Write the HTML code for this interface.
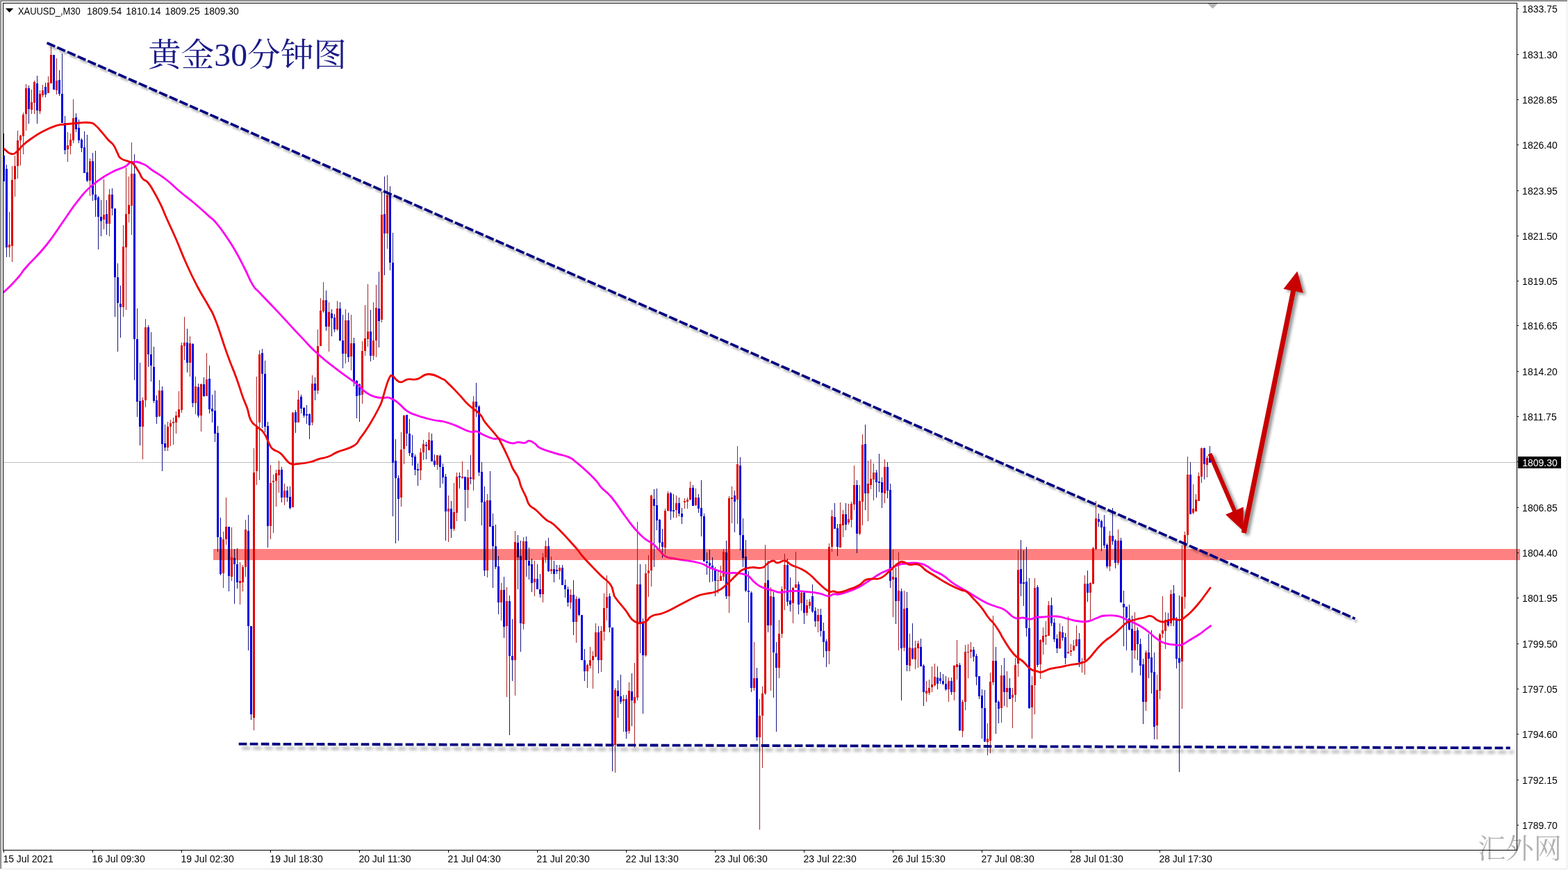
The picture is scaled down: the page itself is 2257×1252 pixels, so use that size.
<!DOCTYPE html>
<html><head><meta charset="utf-8"><title>XAUUSD M30</title>
<style>html,body{margin:0;padding:0;background:#fff;}body{width:2257px;height:1252px;overflow:hidden;position:relative;font-family:"Liberation Sans",sans-serif;}</style>
</head><body><svg width="2257" height="1252" viewBox="0 0 2257 1252" style="position:absolute;left:0;top:0">
<defs>
<filter id="sh" x="0" y="0" width="2257" height="1252" filterUnits="userSpaceOnUse"><feGaussianBlur in="SourceAlpha" stdDeviation="1.5"/><feOffset dx="3" dy="4.2" result="o"/><feComponentTransfer><feFuncA type="linear" slope="0.3"/></feComponentTransfer><feMerge><feMergeNode/><feMergeNode in="SourceGraphic"/></feMerge></filter>
<filter id="shh" x="300" y="1040" width="1957" height="80" filterUnits="userSpaceOnUse"><feGaussianBlur in="SourceAlpha" stdDeviation="2.1"/><feOffset dx="4.5" dy="6" result="o"/><feComponentTransfer><feFuncA type="linear" slope="0.33"/></feComponentTransfer><feMerge><feMergeNode/><feMergeNode in="SourceGraphic"/></feMerge></filter>
<filter id="sh2" x="1700" y="350" width="250" height="460" filterUnits="userSpaceOnUse"><feGaussianBlur in="SourceAlpha" stdDeviation="2.2"/><feOffset dx="4" dy="3" result="o"/><feComponentTransfer><feFuncA type="linear" slope="0.42"/></feComponentTransfer><feMerge><feMergeNode/><feMergeNode in="SourceGraphic"/></feMerge></filter>
</defs>
<rect width="2257" height="1252" fill="#fff"/>
<g shape-rendering="crispEdges">
<rect x="0" y="0" width="2256" height="1" fill="#aaa"/><rect x="0" y="1" width="2256" height="1" fill="#6e6e6e"/>
<rect x="0" y="0" width="1" height="1250" fill="#aaa"/><rect x="1" y="1" width="1" height="1249" fill="#6e6e6e"/>
<rect x="0" y="1250" width="2256" height="1" fill="#e3e3e3"/><rect x="2255" y="2" width="1" height="1249" fill="#e6e6e6"/>
<rect x="5" y="665" width="2178" height="1" fill="#c0c0c0"/>
<path fill="#a82222" d="M13 305h1v47h-1zM13 356h1v14h-1zM17 239h1v20h-1zM17 354h1v23h-1zM21 224h1v15h-1zM21 258h1v25h-1zM25 188h1v14h-1zM25 239h1v18h-1zM29 194h1v1h-1zM29 202h1v36h-1zM33 162h1v3h-1zM33 196h1v26h-1zM37 121h1v6h-1zM37 164h1v24h-1zM45 129h1v18h-1zM45 158h1v6h-1zM49 116h1v2h-1zM49 148h1v16h-1zM57 130h1v5h-1zM57 160h1v4h-1zM61 122h1v8h-1zM61 137h1v3h-1zM69 110h1v9h-1zM73 67h1v12h-1zM81 84h1v32h-1zM81 130h1v6h-1zM97 190h1v19h-1zM97 215h1v18h-1zM101 192h1v9h-1zM101 210h1v12h-1zM105 143h1v27h-1zM105 202h1v4h-1zM129 228h1v4h-1zM129 260h1v22h-1zM149 258h1v51h-1zM149 316h1v14h-1zM157 272h1v8h-1zM157 322h1v18h-1zM177 324h1v31h-1zM177 442h1v14h-1zM181 241h1v67h-1zM181 356h1v90h-1zM185 254h1v41h-1zM185 308h1v12h-1zM189 205h1v45h-1zM189 296h1v42h-1zM205 572h1v4h-1zM205 614h1v47h-1zM209 459h1v12h-1zM209 576h1v10h-1zM229 547h1v15h-1zM229 599h1v1h-1zM241 607h1v7h-1zM241 644h1v5h-1zM245 604h1v5h-1zM245 614h1v28h-1zM249 601h1v6h-1zM249 609h1v31h-1zM253 592h1v6h-1zM253 608h1v16h-1zM257 563h1v26h-1zM257 600h1v2h-1zM261 493h1v4h-1zM261 590h1v4h-1zM265 456h1v37h-1zM265 498h1v20h-1zM273 484h1v10h-1zM273 522h1v20h-1zM281 542h1v14h-1zM281 580h1v16h-1zM289 552h1v1h-1zM289 598h1v23h-1zM297 508h1v38h-1zM321 765h1v11h-1zM321 825h1v21h-1zM325 716h1v42h-1zM325 776h1v8h-1zM333 759h1v43h-1zM333 830h1v6h-1zM345 809h1v27h-1zM345 839h1v31h-1zM349 813h1v3h-1zM349 838h1v13h-1zM353 748h1v14h-1zM353 816h1v14h-1zM365 645h1v35h-1zM365 1033h1v18h-1zM369 542h1v71h-1zM369 678h1v20h-1zM373 504h1v6h-1zM373 608h1v83h-1zM389 669h1v26h-1zM389 757h1v19h-1zM393 683h1v9h-1zM393 694h1v73h-1zM397 676h1v5h-1zM397 692h1v37h-1zM401 663h1v13h-1zM401 684h1v25h-1zM409 696h1v10h-1zM409 716h1v11h-1zM421 593h1v1h-1zM429 562h1v13h-1zM449 540h1v12h-1zM449 608h1v4h-1zM457 474h1v24h-1zM457 562h1v5h-1zM461 429h1v18h-1zM465 406h1v26h-1zM465 448h1v2h-1zM473 435h1v14h-1zM473 470h1v36h-1zM485 433h1v11h-1zM485 474h1v2h-1zM497 445h1v16h-1zM497 509h1v14h-1zM505 453h1v41h-1zM505 513h1v20h-1zM521 491h1v14h-1zM521 568h1v13h-1zM525 439h1v48h-1zM525 505h1v7h-1zM529 409h1v68h-1zM529 488h1v11h-1zM537 435h1v55h-1zM537 512h1v6h-1zM541 410h1v33h-1zM541 490h1v24h-1zM549 276h1v33h-1zM549 460h1v4h-1zM557 252h1v29h-1zM557 336h1v22h-1zM577 622h1v25h-1zM577 716h1v13h-1zM581 597h1v1h-1zM581 646h1v22h-1zM605 645h1v6h-1zM605 677h1v14h-1zM609 633h1v6h-1zM609 651h1v11h-1zM617 622h1v11h-1zM629 669h1v7h-1zM645 713h1v19h-1zM645 736h1v44h-1zM653 695h1v42h-1zM653 761h1v3h-1zM657 680h1v6h-1zM657 738h1v12h-1zM665 664h1v22h-1zM665 688h1v1h-1zM673 676h1v11h-1zM673 705h1v26h-1zM681 570h1v8h-1zM681 690h1v16h-1zM701 711h1v9h-1zM701 821h1v10h-1zM721 839h1v10h-1zM721 867h1v26h-1zM729 845h1v20h-1zM729 901h1v102h-1zM741 764h1v16h-1zM741 950h1v51h-1zM753 773h1v6h-1zM753 898h1v8h-1zM769 807h1v26h-1zM769 838h1v20h-1zM781 796h1v6h-1zM781 855h1v12h-1zM785 778h1v8h-1zM785 802h1v8h-1zM793 801h1v18h-1zM793 822h1v4h-1zM805 813h1v4h-1zM805 822h1v12h-1zM821 848h1v8h-1zM821 867h1v9h-1zM829 858h1v4h-1zM829 895h1v30h-1zM845 955h1v2h-1zM845 966h1v24h-1zM849 931h1v19h-1zM849 958h1v4h-1zM853 937h1v7h-1zM853 950h1v41h-1zM857 897h1v13h-1zM857 945h1v1h-1zM865 901h1v7h-1zM865 950h1v17h-1zM869 854h1v21h-1zM869 909h1v13h-1zM873 828h1v31h-1zM873 875h1v18h-1zM885 990h1v3h-1zM885 1072h1v40h-1zM897 1000h1v6h-1zM897 1009h1v44h-1zM905 982h1v12h-1zM905 1052h1v4h-1zM913 954h1v49h-1zM913 1012h1v64h-1zM917 751h1v90h-1zM917 1004h1v4h-1zM929 812h1v13h-1zM929 943h1v2h-1zM933 799h1v22h-1zM933 825h1v34h-1zM937 712h1v1h-1zM937 821h1v23h-1zM957 732h1v3h-1zM957 788h1v10h-1zM961 707h1v3h-1zM961 735h1v1h-1zM973 713h1v11h-1zM973 734h1v11h-1zM985 717h1v4h-1zM985 723h1v9h-1zM989 716h1v3h-1zM989 722h1v10h-1zM993 693h1v9h-1zM993 719h1v1h-1zM1001 703h1v13h-1zM1001 727h1v1h-1zM1033 821h1v14h-1zM1033 836h1v18h-1zM1037 814h1v15h-1zM1041 790h1v4h-1zM1041 830h1v6h-1zM1049 714h1v3h-1zM1049 858h1v24h-1zM1053 700h1v16h-1zM1053 718h1v35h-1zM1061 642h1v26h-1zM1061 719h1v35h-1zM1085 924h1v52h-1zM1085 990h1v4h-1zM1093 1006h1v24h-1zM1093 1061h1v133h-1zM1097 988h1v10h-1zM1097 1030h1v75h-1zM1101 784h1v55h-1zM1101 998h1v2h-1zM1109 845h1v13h-1zM1109 900h1v94h-1zM1121 892h1v20h-1zM1121 961h1v15h-1zM1125 844h1v4h-1zM1125 912h1v6h-1zM1129 797h1v16h-1zM1129 848h1v30h-1zM1141 845h1v1h-1zM1141 868h1v29h-1zM1145 794h1v47h-1zM1153 852h1v1h-1zM1153 868h1v11h-1zM1161 863h1v8h-1zM1161 882h1v4h-1zM1165 862h1v4h-1zM1165 872h1v4h-1zM1177 876h1v9h-1zM1177 894h1v16h-1zM1193 782h1v5h-1zM1193 937h1v19h-1zM1197 734h1v9h-1zM1197 787h1v7h-1zM1209 723h1v31h-1zM1213 734h1v6h-1zM1213 756h1v17h-1zM1221 725h1v22h-1zM1221 752h1v3h-1zM1225 722h1v3h-1zM1225 748h1v11h-1zM1229 670h1v28h-1zM1229 726h1v8h-1zM1237 698h1v23h-1zM1237 768h1v2h-1zM1241 625h1v15h-1zM1241 722h1v34h-1zM1249 663h1v33h-1zM1249 710h1v40h-1zM1253 661h1v28h-1zM1253 698h1v6h-1zM1257 667h1v13h-1zM1257 690h1v30h-1zM1273 661h1v11h-1zM1273 710h1v14h-1zM1285 791h1v39h-1zM1285 834h1v54h-1zM1293 795h1v55h-1zM1293 865h1v71h-1zM1301 850h1v26h-1zM1301 932h1v5h-1zM1309 912h1v20h-1zM1309 958h1v8h-1zM1317 922h1v10h-1zM1317 949h1v14h-1zM1321 922h1v4h-1zM1321 933h1v28h-1zM1333 980h1v14h-1zM1333 998h1v12h-1zM1337 978h1v12h-1zM1337 997h1v3h-1zM1341 959h1v26h-1zM1341 989h1v7h-1zM1345 955h1v19h-1zM1345 986h1v2h-1zM1365 975h1v5h-1zM1365 992h1v18h-1zM1373 957h1v1h-1zM1373 996h1v12h-1zM1377 921h1v35h-1zM1377 960h1v18h-1zM1385 1007h1v3h-1zM1385 1052h1v9h-1zM1389 928h1v10h-1zM1389 1010h1v12h-1zM1393 927h1v11h-1zM1393 939h1v37h-1zM1397 924h1v11h-1zM1397 938h1v9h-1zM1421 1041h1v22h-1zM1421 1068h1v19h-1zM1425 968h1v13h-1zM1425 1066h1v18h-1zM1429 886h1v65h-1zM1429 982h1v4h-1zM1441 957h1v15h-1zM1441 1019h1v21h-1zM1449 966h1v24h-1zM1449 996h1v22h-1zM1457 990h1v10h-1zM1457 1004h1v44h-1zM1461 947h1v10h-1zM1461 1000h1v10h-1zM1465 792h1v28h-1zM1465 955h1v19h-1zM1485 973h1v13h-1zM1485 1018h1v45h-1zM1489 832h1v14h-1zM1489 986h1v42h-1zM1497 920h1v1h-1zM1497 956h1v21h-1zM1501 903h1v12h-1zM1501 924h1v18h-1zM1505 894h1v20h-1zM1505 916h1v12h-1zM1509 865h1v6h-1zM1525 897h1v12h-1zM1525 933h1v1h-1zM1537 887h1v51h-1zM1537 940h1v1h-1zM1541 927h1v9h-1zM1541 938h1v6h-1zM1545 921h1v8h-1zM1545 936h1v1h-1zM1549 900h1v20h-1zM1557 947h1v5h-1zM1557 954h1v14h-1zM1561 828h1v12h-1zM1561 950h1v21h-1zM1569 838h1v1h-1zM1569 853h1v39h-1zM1573 787h1v2h-1zM1573 840h1v1h-1zM1577 721h1v25h-1zM1577 790h1v2h-1zM1597 764h1v7h-1zM1597 815h1v7h-1zM1609 762h1v16h-1zM1609 810h1v3h-1zM1633 881h1v27h-1zM1633 936h1v12h-1zM1649 936h1v3h-1zM1649 1010h1v13h-1zM1665 971h1v22h-1zM1665 1044h1v20h-1zM1669 911h1v2h-1zM1669 994h1v12h-1zM1673 858h1v49h-1zM1673 912h1v6h-1zM1677 881h1v11h-1zM1677 908h1v26h-1zM1685 849h1v6h-1zM1685 897h1v4h-1zM1701 785h1v74h-1zM1701 952h1v68h-1zM1705 765h1v5h-1zM1705 859h1v17h-1zM1709 657h1v26h-1zM1709 770h1v12h-1zM1717 697h1v35h-1zM1717 738h1v2h-1zM1721 711h1v8h-1zM1725 680h1v5h-1zM1729 644h1v1h-1zM1729 686h1v9h-1zM1737 656h1v3h-1zM1737 669h1v18h-1z"/><path fill="#141482" d="M5 192h1v32h-1zM9 237h1v6h-1zM9 356h1v14h-1zM41 123h1v4h-1zM41 157h1v21h-1zM53 109h1v11h-1zM53 159h1v19h-1zM65 119h1v6h-1zM65 136h1v4h-1zM85 101h1v14h-1zM85 135h1v3h-1zM89 77h1v58h-1zM93 167h1v10h-1zM93 216h1v6h-1zM109 163h1v6h-1zM109 186h1v4h-1zM113 172h1v12h-1zM113 202h1v4h-1zM117 199h1v2h-1zM117 213h1v6h-1zM121 189h1v23h-1zM125 194h1v54h-1zM125 260h1v2h-1zM133 220h1v12h-1zM133 280h1v9h-1zM137 217h1v63h-1zM137 288h1v24h-1zM141 282h1v2h-1zM141 312h1v47h-1zM145 288h1v24h-1zM145 318h1v22h-1zM153 288h1v20h-1zM153 322h1v16h-1zM161 271h1v9h-1zM161 300h1v10h-1zM165 399h1v57h-1zM169 379h1v20h-1zM169 436h1v70h-1zM173 411h1v26h-1zM173 442h1v44h-1zM193 222h1v28h-1zM193 488h1v59h-1zM197 444h1v44h-1zM197 578h1v22h-1zM201 522h1v55h-1zM201 614h1v27h-1zM213 468h1v3h-1zM213 510h1v18h-1zM217 478h1v32h-1zM217 526h1v23h-1zM221 499h1v29h-1zM221 577h1v3h-1zM225 569h1v7h-1zM225 600h1v10h-1zM233 556h1v6h-1zM233 639h1v39h-1zM237 611h1v27h-1zM237 644h1v5h-1zM269 473h1v20h-1zM269 522h1v14h-1zM277 494h1v1h-1zM277 580h1v6h-1zM285 552h1v5h-1zM285 598h1v3h-1zM293 543h1v10h-1zM293 570h1v1h-1zM301 526h1v19h-1zM301 589h1v6h-1zM305 568h1v20h-1zM305 592h1v16h-1zM309 562h1v29h-1zM309 624h1v12h-1zM313 613h1v10h-1zM313 773h1v21h-1zM317 745h1v28h-1zM317 826h1v2h-1zM329 829h1v22h-1zM337 790h1v13h-1zM337 812h1v57h-1zM341 789h1v23h-1zM341 838h1v9h-1zM357 741h1v23h-1zM357 901h1v35h-1zM361 1028h1v8h-1zM377 502h1v6h-1zM377 538h1v78h-1zM381 519h1v19h-1zM381 614h1v8h-1zM385 607h1v6h-1zM385 757h1v31h-1zM405 672h1v4h-1zM405 716h1v7h-1zM413 700h1v6h-1zM413 716h1v6h-1zM417 700h1v15h-1zM417 731h1v2h-1zM425 590h1v3h-1zM425 608h1v15h-1zM433 568h1v3h-1zM433 588h1v7h-1zM437 586h1v1h-1zM437 598h1v3h-1zM441 583h1v13h-1zM441 598h1v12h-1zM445 595h1v1h-1zM445 612h1v20h-1zM453 543h1v9h-1zM453 562h1v14h-1zM469 418h1v14h-1zM469 470h1v6h-1zM477 445h1v6h-1zM477 458h1v26h-1zM481 452h1v5h-1zM481 474h1v4h-1zM489 435h1v9h-1zM489 490h1v1h-1zM493 453h1v37h-1zM493 509h1v21h-1zM501 450h1v11h-1zM501 514h1v7h-1zM509 486h1v8h-1zM509 549h1v7h-1zM513 547h1v1h-1zM513 570h1v32h-1zM517 552h1v1h-1zM517 569h1v38h-1zM533 446h1v31h-1zM533 512h1v8h-1zM545 391h1v53h-1zM545 462h1v38h-1zM553 254h1v54h-1zM553 336h1v60h-1zM561 268h1v12h-1zM561 378h1v11h-1zM565 335h1v43h-1zM565 666h1v77h-1zM569 632h1v31h-1zM569 688h1v94h-1zM573 684h1v4h-1zM573 718h1v60h-1zM585 624h1v18h-1zM589 603h1v21h-1zM589 652h1v4h-1zM593 626h1v26h-1zM593 658h1v12h-1zM597 654h1v3h-1zM597 676h1v8h-1zM601 667h1v8h-1zM601 677h1v22h-1zM613 636h1v4h-1zM613 642h1v19h-1zM621 624h1v10h-1zM625 654h1v9h-1zM625 669h1v3h-1zM633 654h1v2h-1zM633 672h1v30h-1zM637 667h1v5h-1zM637 687h1v9h-1zM641 682h1v4h-1zM641 736h1v42h-1zM649 721h1v11h-1zM649 761h1v13h-1zM661 680h1v5h-1zM661 687h1v16h-1zM669 705h1v45h-1zM677 655h1v32h-1zM677 689h1v8h-1zM685 551h1v27h-1zM685 586h1v14h-1zM689 583h1v2h-1zM689 680h1v5h-1zM693 665h1v14h-1zM693 723h1v33h-1zM697 700h1v22h-1zM697 821h1v8h-1zM705 678h1v42h-1zM709 739h1v18h-1zM709 786h1v60h-1zM713 755h1v31h-1zM713 816h1v3h-1zM717 800h1v15h-1zM717 867h1v17h-1zM725 830h1v19h-1zM725 902h1v16h-1zM733 857h1v8h-1zM733 944h1v114h-1zM737 891h1v53h-1zM737 950h1v30h-1zM745 770h1v11h-1zM745 802h1v46h-1zM749 778h1v22h-1zM749 897h1v41h-1zM757 772h1v7h-1zM757 806h1v24h-1zM761 788h1v19h-1zM761 814h1v20h-1zM765 804h1v8h-1zM765 839h1v13h-1zM773 812h1v21h-1zM777 826h1v22h-1zM777 855h1v5h-1zM789 774h1v12h-1zM789 822h1v1h-1zM797 807h1v12h-1zM797 826h1v12h-1zM801 813h1v7h-1zM801 822h1v4h-1zM809 813h1v4h-1zM813 834h1v8h-1zM813 848h1v12h-1zM817 844h1v4h-1zM817 867h1v6h-1zM825 835h1v21h-1zM825 895h1v19h-1zM833 860h1v2h-1zM833 885h1v2h-1zM841 934h1v16h-1zM841 966h1v14h-1zM861 901h1v9h-1zM861 950h1v19h-1zM877 854h1v4h-1zM877 903h1v7h-1zM881 1072h1v38h-1zM889 979h1v15h-1zM889 1002h1v31h-1zM893 971h1v31h-1zM893 1010h1v3h-1zM901 1000h1v6h-1zM901 1053h1v10h-1zM909 969h1v26h-1zM909 1008h1v37h-1zM921 812h1v29h-1zM921 898h1v42h-1zM925 890h1v6h-1zM925 943h1v84h-1zM941 704h1v14h-1zM941 728h1v88h-1zM945 703h1v24h-1zM945 749h1v14h-1zM949 747h1v1h-1zM949 781h1v9h-1zM953 761h1v19h-1zM953 787h1v16h-1zM965 708h1v2h-1zM965 736h1v12h-1zM969 711h1v23h-1zM969 736h1v9h-1zM977 716h1v8h-1zM977 739h1v4h-1zM981 731h1v8h-1zM981 744h1v10h-1zM997 698h1v4h-1zM1005 711h1v5h-1zM1005 732h1v6h-1zM1009 691h1v40h-1zM1009 743h1v29h-1zM1013 739h1v4h-1zM1017 795h1v13h-1zM1017 810h1v17h-1zM1021 791h1v19h-1zM1021 814h1v24h-1zM1025 802h1v12h-1zM1025 817h1v20h-1zM1029 816h1v5h-1zM1029 836h1v22h-1zM1045 778h1v17h-1zM1045 858h1v4h-1zM1057 706h1v7h-1zM1057 722h1v44h-1zM1065 658h1v12h-1zM1065 770h1v22h-1zM1069 746h1v24h-1zM1069 803h1v13h-1zM1073 777h1v24h-1zM1073 850h1v2h-1zM1077 822h1v28h-1zM1077 852h1v44h-1zM1081 851h1v2h-1zM1081 990h1v6h-1zM1089 961h1v15h-1zM1089 1061h1v5h-1zM1105 807h1v28h-1zM1105 900h1v10h-1zM1113 852h1v7h-1zM1113 939h1v65h-1zM1117 924h1v16h-1zM1117 961h1v92h-1zM1133 804h1v9h-1zM1133 866h1v6h-1zM1137 831h1v33h-1zM1137 870h1v10h-1zM1149 837h1v4h-1zM1149 870h1v14h-1zM1157 852h1v1h-1zM1157 882h1v16h-1zM1169 841h1v17h-1zM1169 880h1v2h-1zM1173 874h1v5h-1zM1173 894h1v8h-1zM1181 876h1v9h-1zM1181 908h1v8h-1zM1185 896h1v12h-1zM1185 924h1v22h-1zM1189 920h1v3h-1zM1189 937h1v23h-1zM1201 724h1v20h-1zM1205 754h1v6h-1zM1205 787h1v13h-1zM1217 724h1v16h-1zM1217 755h1v8h-1zM1233 691h1v7h-1zM1233 768h1v28h-1zM1245 611h1v28h-1zM1245 710h1v24h-1zM1261 676h1v4h-1zM1261 694h1v22h-1zM1265 653h1v40h-1zM1265 695h1v13h-1zM1269 687h1v7h-1zM1269 709h1v22h-1zM1277 665h1v7h-1zM1277 706h1v11h-1zM1281 696h1v9h-1zM1281 836h1v10h-1zM1289 817h1v14h-1zM1289 865h1v33h-1zM1297 847h1v4h-1zM1297 933h1v75h-1zM1305 852h1v23h-1zM1305 957h1v9h-1zM1313 897h1v36h-1zM1313 948h1v1h-1zM1325 919h1v12h-1zM1329 956h1v2h-1zM1329 996h1v20h-1zM1349 959h1v16h-1zM1349 984h1v8h-1zM1353 967h1v9h-1zM1353 980h1v4h-1zM1357 970h1v10h-1zM1357 984h1v2h-1zM1361 973h1v11h-1zM1361 992h1v2h-1zM1369 975h1v5h-1zM1369 996h1v4h-1zM1381 954h1v3h-1zM1381 1051h1v1h-1zM1401 931h1v4h-1zM1401 945h1v7h-1zM1405 941h1v3h-1zM1405 974h1v12h-1zM1409 1002h1v4h-1zM1413 992h1v9h-1zM1413 1019h1v44h-1zM1417 993h1v26h-1zM1417 1067h1v1h-1zM1433 931h1v20h-1zM1433 1011h1v45h-1zM1437 1008h1v2h-1zM1437 1020h1v21h-1zM1445 947h1v25h-1zM1445 996h1v20h-1zM1453 976h1v14h-1zM1469 777h1v42h-1zM1469 840h1v18h-1zM1473 792h1v46h-1zM1473 840h1v32h-1zM1477 787h1v50h-1zM1477 904h1v12h-1zM1481 832h1v72h-1zM1481 1019h1v1h-1zM1493 842h1v3h-1zM1493 957h1v3h-1zM1513 860h1v11h-1zM1513 897h1v4h-1zM1517 890h1v6h-1zM1517 920h1v4h-1zM1521 913h1v6h-1zM1521 933h1v7h-1zM1529 901h1v9h-1zM1529 918h1v4h-1zM1533 911h1v6h-1zM1533 947h1v9h-1zM1553 911h1v9h-1zM1553 953h1v7h-1zM1565 821h1v19h-1zM1565 853h1v13h-1zM1581 739h1v8h-1zM1581 751h1v7h-1zM1585 748h1v2h-1zM1585 759h1v34h-1zM1589 741h1v17h-1zM1589 785h1v4h-1zM1593 782h1v2h-1zM1593 815h1v3h-1zM1601 731h1v40h-1zM1601 779h1v5h-1zM1605 776h1v2h-1zM1605 810h1v8h-1zM1613 774h1v4h-1zM1617 850h1v19h-1zM1617 874h1v56h-1zM1621 889h1v47h-1zM1625 870h1v20h-1zM1625 906h1v1h-1zM1629 886h1v19h-1zM1629 936h1v32h-1zM1637 903h1v4h-1zM1637 927h1v23h-1zM1641 919h1v8h-1zM1641 958h1v14h-1zM1645 948h1v8h-1zM1645 1010h1v32h-1zM1653 912h1v27h-1zM1653 948h1v28h-1zM1657 907h1v39h-1zM1657 968h1v30h-1zM1661 939h1v28h-1zM1661 1046h1v18h-1zM1681 882h1v11h-1zM1681 900h1v2h-1zM1689 842h1v12h-1zM1689 890h1v11h-1zM1693 888h1v2h-1zM1693 948h1v14h-1zM1697 857h1v90h-1zM1697 954h1v157h-1zM1713 665h1v18h-1zM1733 644h1v1h-1zM1733 668h1v22h-1zM1741 642h1v11h-1z"/><path fill="#e20000" d="M12 352h3v4h-3zM16 259h3v95h-3zM20 239h3v19h-3zM24 202h3v37h-3zM28 195h3v7h-3zM32 165h3v31h-3zM36 127h3v37h-3zM44 147h3v11h-3zM48 118h3v30h-3zM56 135h3v25h-3zM60 130h3v7h-3zM68 119h3v15h-3zM72 79h3v41h-3zM80 116h3v14h-3zM96 209h3v6h-3zM100 201h3v9h-3zM104 170h3v32h-3zM128 232h3v28h-3zM148 309h3v7h-3zM156 280h3v42h-3zM176 355h3v87h-3zM180 308h3v48h-3zM184 295h3v13h-3zM188 250h3v46h-3zM204 576h3v38h-3zM208 471h3v105h-3zM228 562h3v37h-3zM240 614h3v30h-3zM244 609h3v5h-3zM248 607h3v2h-3zM252 598h3v10h-3zM256 589h3v11h-3zM260 497h3v93h-3zM264 493h3v5h-3zM272 494h3v28h-3zM280 556h3v24h-3zM288 553h3v45h-3zM296 546h3v24h-3zM320 776h3v49h-3zM324 758h3v18h-3zM332 802h3v28h-3zM344 836h3v3h-3zM348 816h3v22h-3zM352 762h3v54h-3zM364 680h3v353h-3zM368 613h3v65h-3zM372 510h3v98h-3zM388 695h3v62h-3zM392 692h3v2h-3zM396 681h3v11h-3zM400 676h3v8h-3zM408 706h3v10h-3zM420 594h3v136h-3zM428 575h3v33h-3zM448 552h3v56h-3zM456 498h3v64h-3zM460 447h3v51h-3zM464 432h3v16h-3zM472 449h3v21h-3zM484 444h3v30h-3zM496 461h3v48h-3zM504 494h3v19h-3zM520 505h3v63h-3zM524 487h3v18h-3zM528 477h3v11h-3zM536 490h3v22h-3zM540 443h3v47h-3zM548 309h3v151h-3zM556 281h3v55h-3zM576 647h3v69h-3zM580 598h3v48h-3zM604 651h3v26h-3zM608 639h3v12h-3zM616 633h3v15h-3zM628 655h3v14h-3zM644 732h3v4h-3zM652 737h3v24h-3zM656 686h3v52h-3zM664 686h3v2h-3zM672 687h3v18h-3zM680 578h3v112h-3zM700 720h3v101h-3zM720 849h3v18h-3zM728 865h3v36h-3zM740 780h3v170h-3zM752 779h3v119h-3zM768 833h3v5h-3zM780 802h3v53h-3zM784 786h3v16h-3zM792 819h3v3h-3zM804 817h3v5h-3zM820 856h3v11h-3zM828 862h3v33h-3zM844 957h3v9h-3zM848 950h3v8h-3zM852 944h3v6h-3zM856 910h3v35h-3zM864 908h3v42h-3zM868 875h3v34h-3zM872 859h3v16h-3zM884 993h3v79h-3zM896 1006h3v3h-3zM904 994h3v58h-3zM912 1003h3v9h-3zM916 841h3v163h-3zM928 825h3v118h-3zM932 821h3v4h-3zM936 713h3v108h-3zM956 735h3v53h-3zM960 710h3v25h-3zM972 724h3v10h-3zM984 721h3v2h-3zM988 719h3v3h-3zM992 702h3v17h-3zM1000 716h3v11h-3zM1032 835h3v1h-3zM1036 829h3v7h-3zM1040 794h3v36h-3zM1048 717h3v141h-3zM1052 716h3v2h-3zM1060 668h3v51h-3zM1084 976h3v14h-3zM1092 1030h3v31h-3zM1096 998h3v32h-3zM1100 839h3v159h-3zM1108 858h3v42h-3zM1120 912h3v49h-3zM1124 848h3v64h-3zM1128 813h3v35h-3zM1140 846h3v22h-3zM1144 841h3v5h-3zM1152 853h3v15h-3zM1160 871h3v11h-3zM1164 866h3v6h-3zM1176 885h3v9h-3zM1192 787h3v150h-3zM1196 743h3v44h-3zM1208 754h3v34h-3zM1212 740h3v16h-3zM1220 747h3v5h-3zM1224 725h3v23h-3zM1228 698h3v28h-3zM1236 721h3v47h-3zM1240 640h3v82h-3zM1248 696h3v14h-3zM1252 689h3v9h-3zM1256 680h3v10h-3zM1272 672h3v38h-3zM1284 830h3v4h-3zM1292 850h3v15h-3zM1300 876h3v56h-3zM1308 932h3v26h-3zM1316 932h3v17h-3zM1320 926h3v7h-3zM1332 994h3v4h-3zM1336 990h3v7h-3zM1340 985h3v4h-3zM1344 974h3v12h-3zM1364 980h3v12h-3zM1372 958h3v38h-3zM1376 956h3v4h-3zM1384 1010h3v42h-3zM1388 938h3v72h-3zM1392 938h3v1h-3zM1396 935h3v3h-3zM1420 1063h3v5h-3zM1424 981h3v85h-3zM1428 951h3v31h-3zM1440 972h3v47h-3zM1448 990h3v6h-3zM1456 1000h3v4h-3zM1460 957h3v43h-3zM1464 820h3v135h-3zM1484 986h3v32h-3zM1488 846h3v140h-3zM1496 921h3v35h-3zM1500 915h3v9h-3zM1504 914h3v2h-3zM1508 871h3v44h-3zM1524 909h3v24h-3zM1536 938h3v2h-3zM1540 936h3v2h-3zM1544 929h3v7h-3zM1548 920h3v10h-3zM1556 952h3v2h-3zM1560 840h3v110h-3zM1568 839h3v14h-3zM1572 789h3v51h-3zM1576 746h3v44h-3zM1596 771h3v44h-3zM1608 778h3v32h-3zM1632 908h3v28h-3zM1648 939h3v71h-3zM1664 993h3v51h-3zM1668 913h3v81h-3zM1672 907h3v5h-3zM1676 892h3v16h-3zM1684 855h3v42h-3zM1700 859h3v93h-3zM1704 770h3v89h-3zM1708 683h3v87h-3zM1716 732h3v6h-3zM1720 719h3v17h-3zM1724 685h3v36h-3zM1728 645h3v41h-3zM1736 659h3v10h-3z"/><path fill="#0000e0" d="M4 224h3v37h-3zM8 243h3v113h-3zM40 127h3v30h-3zM52 120h3v39h-3zM64 125h3v11h-3zM76 79h3v50h-3zM84 115h3v20h-3zM88 135h3v42h-3zM92 177h3v39h-3zM108 169h3v17h-3zM112 184h3v18h-3zM116 201h3v12h-3zM120 212h3v37h-3zM124 248h3v12h-3zM132 232h3v48h-3zM136 280h3v8h-3zM140 284h3v28h-3zM144 312h3v6h-3zM152 308h3v14h-3zM160 280h3v20h-3zM164 300h3v99h-3zM168 399h3v37h-3zM172 437h3v5h-3zM192 250h3v238h-3zM196 488h3v90h-3zM200 577h3v37h-3zM212 471h3v39h-3zM216 510h3v16h-3zM220 528h3v49h-3zM224 576h3v24h-3zM232 562h3v77h-3zM236 638h3v6h-3zM268 493h3v29h-3zM276 495h3v85h-3zM284 557h3v41h-3zM292 553h3v17h-3zM300 545h3v44h-3zM304 588h3v4h-3zM308 591h3v33h-3zM312 623h3v150h-3zM316 773h3v53h-3zM328 758h3v71h-3zM336 803h3v9h-3zM340 812h3v26h-3zM356 764h3v137h-3zM360 901h3v127h-3zM376 508h3v30h-3zM380 538h3v76h-3zM384 613h3v144h-3zM404 676h3v40h-3zM412 706h3v10h-3zM416 715h3v16h-3zM424 593h3v15h-3zM432 571h3v17h-3zM436 587h3v11h-3zM440 596h3v2h-3zM444 596h3v16h-3zM452 552h3v10h-3zM468 432h3v38h-3zM476 451h3v7h-3zM480 457h3v17h-3zM488 444h3v46h-3zM492 490h3v19h-3zM500 461h3v53h-3zM508 494h3v55h-3zM512 548h3v22h-3zM516 553h3v16h-3zM532 477h3v35h-3zM544 444h3v18h-3zM552 308h3v28h-3zM560 280h3v98h-3zM564 378h3v288h-3zM568 663h3v25h-3zM572 688h3v30h-3zM584 597h3v27h-3zM588 624h3v28h-3zM592 652h3v6h-3zM596 657h3v19h-3zM600 675h3v2h-3zM612 640h3v2h-3zM620 634h3v30h-3zM624 663h3v6h-3zM632 656h3v16h-3zM636 672h3v15h-3zM640 686h3v50h-3zM648 732h3v29h-3zM660 685h3v2h-3zM668 686h3v19h-3zM676 687h3v2h-3zM684 578h3v8h-3zM688 585h3v95h-3zM692 679h3v44h-3zM696 722h3v99h-3zM704 720h3v38h-3zM708 757h3v29h-3zM712 786h3v30h-3zM716 815h3v52h-3zM724 849h3v53h-3zM732 865h3v79h-3zM736 944h3v6h-3zM744 781h3v21h-3zM748 800h3v97h-3zM756 779h3v27h-3zM760 807h3v7h-3zM764 812h3v27h-3zM772 833h3v15h-3zM776 848h3v7h-3zM788 786h3v36h-3zM796 819h3v7h-3zM800 820h3v2h-3zM808 817h3v25h-3zM812 842h3v6h-3zM816 848h3v19h-3zM824 856h3v39h-3zM832 862h3v23h-3zM836 885h3v65h-3zM840 950h3v16h-3zM860 910h3v40h-3zM876 858h3v45h-3zM880 903h3v169h-3zM888 994h3v8h-3zM892 1002h3v8h-3zM900 1006h3v47h-3zM908 995h3v13h-3zM920 841h3v57h-3zM924 896h3v47h-3zM940 718h3v10h-3zM944 727h3v22h-3zM948 748h3v33h-3zM952 780h3v7h-3zM964 710h3v26h-3zM968 734h3v2h-3zM976 724h3v15h-3zM980 739h3v5h-3zM996 702h3v26h-3zM1004 716h3v16h-3zM1008 731h3v12h-3zM1012 743h3v65h-3zM1016 808h3v2h-3zM1020 810h3v4h-3zM1024 814h3v3h-3zM1028 821h3v15h-3zM1044 795h3v63h-3zM1056 713h3v9h-3zM1064 670h3v100h-3zM1068 770h3v33h-3zM1072 801h3v49h-3zM1076 850h3v2h-3zM1080 853h3v137h-3zM1088 976h3v85h-3zM1104 835h3v65h-3zM1112 859h3v80h-3zM1116 940h3v21h-3zM1132 813h3v53h-3zM1136 864h3v6h-3zM1148 841h3v29h-3zM1156 853h3v29h-3zM1168 858h3v22h-3zM1172 879h3v15h-3zM1180 885h3v23h-3zM1184 908h3v16h-3zM1188 923h3v14h-3zM1200 744h3v17h-3zM1204 760h3v27h-3zM1216 740h3v15h-3zM1232 698h3v70h-3zM1244 639h3v71h-3zM1260 680h3v14h-3zM1264 693h3v2h-3zM1268 694h3v15h-3zM1276 672h3v34h-3zM1280 705h3v131h-3zM1288 831h3v34h-3zM1296 851h3v82h-3zM1304 875h3v82h-3zM1312 933h3v15h-3zM1324 931h3v28h-3zM1328 958h3v38h-3zM1348 975h3v9h-3zM1352 976h3v4h-3zM1356 980h3v4h-3zM1360 984h3v8h-3zM1368 980h3v16h-3zM1380 957h3v94h-3zM1400 935h3v10h-3zM1404 944h3v30h-3zM1408 973h3v29h-3zM1412 1001h3v18h-3zM1416 1019h3v48h-3zM1432 951h3v60h-3zM1436 1010h3v10h-3zM1444 972h3v24h-3zM1452 990h3v16h-3zM1468 819h3v21h-3zM1472 838h3v2h-3zM1476 837h3v67h-3zM1480 904h3v115h-3zM1492 845h3v112h-3zM1512 871h3v26h-3zM1516 896h3v24h-3zM1520 919h3v14h-3zM1528 910h3v8h-3zM1532 917h3v30h-3zM1552 920h3v33h-3zM1564 840h3v13h-3zM1580 747h3v4h-3zM1584 750h3v9h-3zM1588 758h3v27h-3zM1592 784h3v31h-3zM1600 771h3v8h-3zM1604 778h3v32h-3zM1612 778h3v89h-3zM1616 869h3v5h-3zM1620 873h3v16h-3zM1624 890h3v16h-3zM1628 905h3v31h-3zM1636 907h3v20h-3zM1640 927h3v31h-3zM1644 956h3v54h-3zM1652 939h3v9h-3zM1656 946h3v22h-3zM1660 967h3v79h-3zM1680 893h3v7h-3zM1688 854h3v36h-3zM1692 890h3v58h-3zM1696 947h3v7h-3zM1712 683h3v57h-3zM1732 645h3v23h-3zM1740 653h3v13h-3z"/>
</g>
<path d="M5.5 420.5C8.6 417.4 11.3 415.3 17.3 409.0C23.3 402.7 22.2 403.9 28.0 397.0C33.8 390.1 28.7 394.7 39.0 383.0C49.3 371.3 52.1 370.9 66.5 353.0C80.9 335.1 80.6 333.1 93.0 315.7C105.4 298.3 102.3 300.9 113.0 287.8C123.7 274.7 120.6 277.0 133.0 266.5C145.4 256.0 147.1 255.7 159.5 248.6C171.9 241.5 171.4 244.1 179.5 240.0C187.6 235.9 182.9 234.4 190.0 233.3C197.1 232.2 198.2 232.9 206.0 236.0C213.8 239.1 210.4 239.0 219.3 245.0C228.2 251.0 228.7 250.3 239.3 258.5C249.9 266.7 248.4 266.9 259.0 275.8C269.6 284.7 268.1 282.6 279.0 291.8C289.9 301.0 291.2 302.4 300.0 310.4C308.8 318.4 304.9 313.5 312.0 321.8C319.1 330.1 319.2 330.7 326.6 341.7C334.0 352.7 332.9 350.7 339.9 363.0C346.9 375.3 346.6 375.5 353.0 388.0C359.4 400.5 358.1 400.9 363.8 410.0C369.5 419.1 364.5 411.4 374.4 422.0C384.3 432.6 385.4 433.3 401.0 449.9C416.6 466.5 417.8 468.5 433.0 484.4C448.2 500.3 443.9 496.9 458.0 509.7C472.1 522.5 471.4 521.0 486.0 532.3C500.6 543.6 502.0 543.5 512.7 552.0C523.4 560.5 519.0 559.0 526.0 564.0C533.0 569.0 531.9 568.6 539.0 570.8C546.1 573.0 546.8 572.0 552.5 572.4C558.2 572.8 555.2 570.6 560.5 572.4C565.8 574.2 565.8 574.3 572.5 579.3C579.2 584.3 578.5 586.4 585.8 591.3C593.1 596.2 592.7 595.0 600.0 597.8C607.3 600.6 605.9 599.9 613.0 601.8C620.1 603.7 619.4 603.6 626.6 605.0C633.8 606.4 632.1 605.0 639.9 607.0C647.7 609.0 646.2 608.7 655.8 612.4C665.4 616.1 667.6 618.7 675.8 621.0C684.0 623.3 681.1 619.7 686.4 621.0C691.7 622.3 689.7 623.0 695.7 625.7C701.7 628.4 702.6 629.4 709.0 631.0C715.4 632.6 712.5 629.9 719.6 631.7C726.7 633.5 728.6 636.4 735.6 637.7C742.6 639.0 740.7 636.5 746.0 636.4C751.3 636.3 751.4 637.9 755.5 637.4C759.6 636.9 757.6 634.1 761.5 634.4C765.4 634.7 765.6 635.6 770.0 638.4C774.4 641.2 770.2 641.3 778.0 645.0C785.8 648.7 788.7 648.9 799.4 652.3C810.1 655.7 809.8 654.1 818.0 657.6C826.2 661.1 822.5 659.7 830.0 665.6C837.5 671.5 838.3 672.3 846.0 679.6C853.7 686.9 853.7 686.9 859.0 692.9C864.3 698.9 860.3 695.8 866.0 702.0C871.7 708.2 871.4 705.1 880.5 716.0C889.6 726.9 891.3 731.3 900.0 743.0C908.7 754.7 905.9 751.7 913.0 760.0C920.1 768.3 919.4 767.9 926.6 774.0C933.8 780.1 933.7 777.8 939.9 782.9C946.1 788.0 945.0 788.2 950.0 793.0C955.0 797.8 952.0 797.9 958.5 801.0C965.0 804.1 961.7 802.2 974.4 804.6C987.1 807.0 993.9 807.0 1006.0 810.0C1018.1 813.0 1012.4 813.1 1019.6 816.0C1026.8 818.9 1026.0 818.7 1033.0 821.0C1040.0 823.3 1038.9 823.6 1046.0 824.6C1053.1 825.6 1051.6 823.7 1059.5 824.6C1067.4 825.5 1068.4 824.5 1075.5 828.0C1082.6 831.5 1080.3 833.4 1086.0 837.9C1091.7 842.4 1089.6 841.8 1096.7 845.0C1103.8 848.2 1105.7 847.8 1112.7 849.8C1119.7 851.8 1116.0 852.3 1123.0 852.5C1130.0 852.7 1129.4 850.8 1139.0 850.5C1148.6 850.2 1148.3 850.5 1159.0 851.4C1169.7 852.3 1170.2 852.1 1179.0 853.8C1187.8 855.5 1186.4 857.5 1192.0 857.8C1197.6 858.1 1195.7 855.7 1200.0 855.0C1204.3 854.3 1202.7 855.9 1208.0 855.0C1213.3 854.1 1212.5 854.4 1220.0 851.7C1227.5 849.0 1227.2 849.6 1236.0 845.0C1244.8 840.4 1244.9 839.5 1253.0 834.4C1261.1 829.3 1259.4 829.7 1266.5 825.8C1273.6 821.9 1272.7 823.2 1279.8 819.8C1286.9 816.4 1286.6 815.3 1293.0 813.0C1299.4 810.7 1298.1 811.9 1303.7 811.0C1309.3 810.1 1308.3 809.8 1314.0 809.8C1319.7 809.8 1319.7 809.7 1325.0 811.0C1330.3 812.3 1329.0 811.8 1334.0 814.5C1339.0 817.2 1337.5 817.5 1343.6 821.0C1349.7 824.5 1349.1 822.8 1356.9 827.8C1364.7 832.8 1365.0 834.5 1372.8 839.8C1380.6 845.1 1378.9 843.5 1386.0 847.7C1393.1 851.9 1392.3 851.4 1399.4 855.7C1406.5 860.0 1406.4 860.2 1412.7 863.7C1419.0 867.2 1417.3 866.5 1423.0 869.0C1428.7 871.5 1427.9 870.7 1434.0 873.0C1440.1 875.3 1438.9 873.3 1446.0 877.6C1453.1 881.9 1453.4 886.0 1460.5 889.0C1467.6 892.0 1466.5 888.5 1472.5 889.0C1478.5 889.5 1477.8 891.3 1483.0 891.0C1488.2 890.7 1487.5 888.8 1492.0 888.0C1496.5 887.2 1492.5 888.3 1500.0 888.0C1507.5 887.7 1510.1 886.3 1520.0 887.0C1529.9 887.7 1528.2 888.7 1537.0 890.6C1545.8 892.5 1545.1 893.1 1553.0 894.0C1560.9 894.9 1559.4 895.3 1566.5 894.0C1573.6 892.7 1573.4 891.1 1579.8 889.0C1586.2 886.9 1582.6 886.6 1590.4 886.0C1598.2 885.4 1600.6 885.0 1609.0 886.6C1617.4 888.2 1613.8 888.4 1622.0 892.0C1630.2 895.6 1631.4 895.5 1639.6 900.0C1647.8 904.5 1645.9 903.7 1652.9 909.0C1659.9 914.3 1659.3 915.4 1666.0 919.9C1672.7 924.4 1671.2 923.8 1678.0 925.9C1684.8 928.0 1685.3 927.4 1691.4 927.9C1697.5 928.4 1695.0 929.7 1700.7 927.9C1706.4 926.1 1706.0 925.0 1712.7 921.0C1719.4 917.0 1720.3 916.7 1726.0 913.0C1731.7 909.3 1729.6 910.3 1734.0 907.0C1738.4 903.7 1740.3 902.3 1742.6 900.6" fill="none" stroke="#fa00f0" stroke-width="2.8" stroke-linejoin="round" stroke-linecap="round"/>
<path d="M5.5 214.0C8.5 216.0 11.4 220.6 16.6 221.5C21.8 222.4 20.6 220.8 25.0 217.5C29.4 214.2 27.7 213.8 33.0 209.0C38.3 204.2 37.5 204.7 45.0 199.5C52.5 194.3 51.7 194.4 61.0 189.5C70.3 184.6 71.5 184.0 80.0 181.2C88.5 178.4 84.2 180.1 93.0 179.0C101.8 177.9 103.1 177.6 113.0 177.0C122.9 176.4 123.3 175.6 130.0 176.7C136.7 177.8 133.7 177.6 138.0 181.0C142.3 184.4 141.3 184.3 146.0 189.6C150.7 194.9 150.8 195.8 155.5 201.0C160.2 206.2 159.9 203.9 163.5 209.0C167.1 214.1 166.2 214.9 169.0 220.0C171.8 225.1 169.5 224.6 174.0 228.0C178.5 231.4 181.4 230.7 186.0 232.6C190.6 234.5 187.8 231.6 191.4 235.3C195.0 239.0 195.7 240.8 199.4 246.6C203.1 252.4 201.9 253.0 205.4 257.2C208.9 261.4 208.6 257.9 212.7 262.5C216.8 267.1 215.7 266.0 220.7 274.5C225.7 283.0 226.3 284.1 231.3 294.4C236.3 304.7 233.6 300.2 239.3 313.0C245.0 325.8 244.8 324.4 252.6 342.3C260.4 360.2 260.0 361.1 268.5 380.0C277.0 398.9 276.1 397.0 284.5 413.0C292.9 429.0 293.0 427.0 300.0 440.0C307.0 453.0 303.5 443.6 310.6 461.8C317.7 480.0 318.8 486.7 326.6 508.4C334.4 530.1 333.9 526.6 339.9 543.0C345.9 559.4 344.8 558.2 349.0 570.0C353.2 581.8 352.6 578.1 355.8 587.3C359.0 596.5 357.1 597.3 361.0 604.6C364.9 611.9 365.4 609.6 370.4 614.5C375.4 619.4 375.2 616.5 379.8 623.0C384.4 629.5 384.2 632.8 387.7 639.0C391.2 645.2 388.7 642.8 393.0 646.4C397.3 650.0 398.4 648.0 403.7 652.4C409.0 656.8 408.8 658.9 413.0 663.0C417.2 667.1 415.7 666.4 419.6 667.7C423.5 669.0 420.6 668.4 427.6 667.7C434.6 667.0 437.5 666.9 446.0 665.0C454.5 663.1 452.4 662.5 459.5 660.4C466.6 658.3 465.7 659.7 472.8 657.0C479.9 654.3 476.4 654.5 486.0 650.4C495.6 646.3 499.9 647.3 508.7 641.8C517.5 636.3 512.6 638.3 519.0 629.8C525.4 621.3 525.4 621.6 532.6 609.9C539.8 598.2 541.0 595.9 545.9 586.0C550.8 576.1 548.6 579.9 551.0 572.7C553.4 565.5 552.5 566.7 555.0 558.9C557.5 551.1 557.8 548.4 560.5 543.6C563.2 538.8 562.2 540.1 565.0 541.0C567.8 541.9 567.6 544.7 571.0 547.0C574.4 549.3 573.5 550.1 577.8 549.8C582.1 549.5 581.1 546.9 587.0 545.8C592.9 544.7 592.0 547.5 600.0 545.6C608.0 543.7 607.4 538.7 617.0 538.5C626.6 538.3 628.8 541.8 636.0 545.0C643.2 548.2 637.7 544.8 644.0 550.6C650.3 556.4 651.7 558.1 659.8 566.6C667.9 575.1 666.2 574.7 674.4 582.5C682.6 590.3 684.0 589.1 690.4 595.8C696.8 602.5 692.1 599.6 698.4 607.8C704.7 616.0 708.0 618.6 714.0 626.4C720.0 634.2 715.9 627.5 721.0 637.0C726.1 646.5 728.5 652.1 733.0 662.0C737.5 671.9 734.5 667.2 738.0 674.0C741.5 680.8 742.8 680.6 746.0 687.5C749.2 694.4 747.1 692.8 750.0 700.0C752.9 707.2 753.7 707.5 756.9 714.6C760.1 721.7 758.1 721.4 762.0 726.6C765.9 731.8 765.1 728.3 771.5 734.0C777.9 739.7 778.6 741.8 786.0 747.9C793.4 754.0 788.7 747.1 799.4 757.0C810.1 766.9 815.4 773.3 826.0 785.0C836.6 796.7 831.9 792.8 839.0 801.0C846.1 809.2 845.5 808.1 852.6 815.6C859.7 823.1 858.9 822.2 865.8 829.0C872.7 835.8 873.9 834.6 878.5 841.0C883.1 847.4 881.1 847.8 883.0 852.9C884.9 858.0 881.3 853.4 885.8 860.0C890.3 866.6 892.7 868.6 900.0 877.7C907.3 886.8 905.5 889.4 913.0 894.0C920.5 898.6 921.2 897.0 928.0 895.0C934.8 893.0 931.1 889.9 938.5 886.4C945.9 882.9 944.8 886.1 955.8 881.7C966.8 877.3 967.7 875.9 979.8 869.8C991.9 863.7 992.1 862.9 1001.0 859.0C1009.9 855.1 1004.8 857.1 1013.0 855.0C1021.2 852.9 1022.8 854.7 1031.6 851.0C1040.4 847.3 1038.6 847.2 1046.0 841.0C1053.4 834.8 1053.4 833.5 1059.5 827.9C1065.6 822.3 1062.8 823.0 1068.8 820.0C1074.8 817.0 1074.6 817.4 1082.0 816.6C1089.4 815.8 1090.6 818.5 1096.7 817.0C1102.8 815.5 1100.4 813.7 1104.7 811.0C1109.0 808.3 1108.9 807.3 1112.7 807.0C1116.5 806.7 1114.4 810.0 1119.0 810.0C1123.6 810.0 1124.7 806.2 1130.0 807.0C1135.3 807.8 1133.0 809.9 1139.0 813.0C1145.0 816.1 1145.5 814.9 1152.6 818.6C1159.7 822.3 1158.8 821.3 1165.8 827.0C1172.8 832.7 1172.0 833.5 1179.0 839.8C1186.0 846.1 1186.4 847.5 1192.0 850.5C1197.6 853.5 1195.7 850.5 1200.0 851.0C1204.3 851.5 1202.7 852.9 1208.0 852.4C1213.3 851.9 1212.5 851.7 1220.0 849.0C1227.5 846.3 1228.9 846.3 1236.0 842.4C1243.1 838.5 1240.9 836.9 1246.5 834.4C1252.1 831.9 1251.3 833.7 1257.0 833.0C1262.7 832.3 1261.7 834.6 1267.8 831.8C1273.9 829.0 1273.1 828.2 1279.8 822.5C1286.5 816.8 1287.3 814.1 1293.0 810.5C1298.7 806.9 1296.7 808.5 1301.0 809.0C1305.3 809.5 1303.4 811.6 1309.0 812.5C1314.6 813.4 1315.6 810.2 1322.0 812.5C1328.4 814.8 1326.6 816.6 1333.0 821.0C1339.4 825.4 1337.2 823.7 1346.0 829.0C1354.8 834.3 1356.0 835.7 1366.0 841.0C1376.0 846.3 1376.6 846.1 1383.4 849.0C1390.2 851.9 1386.4 848.1 1391.4 851.7C1396.4 855.3 1396.3 856.4 1402.0 862.4C1407.7 868.4 1407.1 867.2 1412.7 874.3C1418.3 881.4 1418.1 882.7 1423.0 889.0C1427.9 895.3 1426.7 892.4 1431.0 898.0C1435.3 903.6 1435.4 904.1 1439.0 910.0C1442.6 915.9 1439.3 911.7 1444.6 920.0C1449.9 928.3 1451.6 932.5 1459.0 941.0C1466.4 949.5 1466.1 946.2 1472.5 951.9C1478.9 957.6 1477.7 958.8 1483.0 962.5C1488.3 966.2 1487.9 964.7 1492.4 965.9C1496.9 967.1 1494.8 967.9 1500.0 967.0C1505.2 966.1 1504.9 964.3 1512.0 962.4C1519.1 960.5 1519.2 961.2 1526.6 959.8C1534.0 958.4 1531.8 958.6 1539.9 957.0C1548.0 955.4 1549.9 956.1 1557.0 953.8C1564.1 951.5 1560.4 954.0 1566.5 948.5C1572.6 943.0 1573.4 939.9 1579.8 933.0C1586.2 926.1 1584.7 927.4 1590.4 922.5C1596.1 917.6 1595.0 919.5 1601.0 914.6C1607.0 909.7 1607.4 909.0 1613.0 904.0C1618.6 899.0 1616.7 899.2 1622.0 896.0C1627.3 892.8 1626.6 893.9 1633.0 892.0C1639.4 890.1 1639.6 890.4 1646.0 889.0C1652.4 887.6 1651.6 885.6 1656.9 886.6C1662.2 887.6 1661.4 890.4 1666.0 892.6C1670.6 894.8 1669.7 895.0 1674.0 895.0C1678.3 895.0 1677.7 893.7 1682.0 892.6C1686.3 891.5 1685.4 891.2 1690.0 891.0C1694.6 890.8 1694.8 893.2 1699.4 892.0C1704.0 890.8 1703.2 889.8 1707.4 886.6C1711.6 883.4 1710.0 885.1 1715.0 880.0C1720.0 874.9 1720.9 873.6 1726.0 867.5C1731.1 861.4 1729.7 862.7 1734.0 857.0C1738.3 851.3 1739.9 848.9 1742.0 846.0" fill="none" stroke="#ee0000" stroke-width="2.8" stroke-linejoin="round" stroke-linecap="round"/>
<g shape-rendering="crispEdges" fill="#000">
<rect x="4" y="4" width="2180" height="1"/><rect x="4" y="4" width="1" height="1220"/><rect x="2183" y="4" width="1" height="1220"/><rect x="4" y="1223" width="2180" height="1"/>
<path d="M2184 12h2v1h-2zM2184 78h2v1h-2zM2184 143h2v1h-2zM2184 208h2v1h-2zM2184 274h2v1h-2zM2184 339h2v1h-2zM2184 404h2v1h-2zM2184 468h2v1h-2zM2184 534h2v1h-2zM2184 599h2v1h-2zM2184 664h2v1h-2zM2184 730h2v1h-2zM2184 795h2v1h-2zM2184 860h2v1h-2zM2184 926h2v1h-2zM2184 991h2v1h-2zM2184 1056h2v1h-2zM2184 1122h2v1h-2zM2184 1187h2v1h-2zM5 1224h1v3h-1zM133 1224h1v3h-1zM261 1224h1v3h-1zM389 1224h1v3h-1zM517 1224h1v3h-1zM645 1224h1v3h-1zM773 1224h1v3h-1zM901 1224h1v3h-1zM1029 1224h1v3h-1zM1157 1224h1v3h-1zM1285 1224h1v3h-1zM1413 1224h1v3h-1zM1541 1224h1v3h-1zM1669 1224h1v3h-1z"/>
</g>
<polygon points="1738,5 1753,5 1745.5,12.5" fill="#b4b4b4"/>
<polygon points="8,12 19.2,12 13.6,18" fill="#000"/>
<g font-family="Liberation Sans, sans-serif" font-size="14px" fill="#000">
<text x="26" y="21" textLength="89.7" lengthAdjust="spacingAndGlyphs">XAUUSD_,M30</text><text x="125" y="21" textLength="50.3" lengthAdjust="spacingAndGlyphs">1809.54</text><text x="181.3" y="21" textLength="50.3" lengthAdjust="spacingAndGlyphs">1810.14</text><text x="237.4" y="21" textLength="50.3" lengthAdjust="spacingAndGlyphs">1809.25</text><text x="293.5" y="21" textLength="50.3" lengthAdjust="spacingAndGlyphs">1809.30</text>
<text x="2191.1" y="18.0">1833.75</text><text x="2191.1" y="84.0">1831.30</text><text x="2191.1" y="149.0">1828.85</text><text x="2191.1" y="214.0">1826.40</text><text x="2191.1" y="280.0">1823.95</text><text x="2191.1" y="345.0">1821.50</text><text x="2191.1" y="410.0">1819.05</text><text x="2191.1" y="474.0">1816.65</text><text x="2191.1" y="540.0">1814.20</text><text x="2191.1" y="605.0">1811.75</text><text x="2191.1" y="670.0">1809.30</text><text x="2191.1" y="736.0">1806.85</text><text x="2191.1" y="801.0">1804.40</text><text x="2191.1" y="866.0">1801.95</text><text x="2191.1" y="932.0">1799.50</text><text x="2191.1" y="997.0">1797.05</text><text x="2191.1" y="1062.0">1794.60</text><text x="2191.1" y="1128.0">1792.15</text><text x="2191.1" y="1193.0">1789.70</text>
<text x="4.4" y="1241">15 Jul 2021</text><text x="132.4" y="1241">16 Jul 09:30</text><text x="260.4" y="1241">19 Jul 02:30</text><text x="388.4" y="1241">19 Jul 18:30</text><text x="516.4" y="1241">20 Jul 11:30</text><text x="644.4" y="1241">21 Jul 04:30</text><text x="772.4" y="1241">21 Jul 20:30</text><text x="900.4" y="1241">22 Jul 13:30</text><text x="1028.4" y="1241">23 Jul 06:30</text><text x="1156.4" y="1241">23 Jul 22:30</text><text x="1284.4" y="1241">26 Jul 15:30</text><text x="1412.4" y="1241">27 Jul 08:30</text><text x="1540.4" y="1241">28 Jul 01:30</text><text x="1668.4" y="1241">28 Jul 17:30</text>
</g>
<rect x="2185" y="657" width="62" height="17" fill="#000" shape-rendering="crispEdges"/>
<text x="2191.2" y="671" font-family="Liberation Sans, sans-serif" font-size="14px" fill="#fff">1809.30</text>
<rect x="307" y="790" width="1881" height="16" fill="#ff8080" style="mix-blend-mode:multiply"/>
<g filter="url(#sh)" stroke="#000080" stroke-width="3.7" fill="none">
<line x1="67.6" y1="61.75" x2="1950.5" y2="890.4" stroke-dasharray="12.7 3.34"/>
</g>
<g filter="url(#shh)" stroke="#000080" stroke-width="3.8" fill="none">
<line x1="343.7" y1="1070.6" x2="2173.9" y2="1076.4" stroke-dasharray="11.7 4.3"/>
</g>
<g filter="url(#sh2)" fill="#c80000"><polygon points="1738.7,654.2 1774.2,736.3 1764.1,740.6 1789.5,764.0 1789.8,729.5 1779.8,733.9 1744.3,651.8"/><polygon points="1793.8,767.7 1865.1,419.3 1875.8,421.5 1867.4,390.2 1847.4,415.7 1858.1,417.9 1786.8,766.3"/></g>
<text x="213" y="95" font-family="'Liberation Serif', 'Noto Serif CJK SC', serif" font-size="47px" fill="#1a1a86" textLength="286" lengthAdjust="spacingAndGlyphs">黄金30分钟图</text>
<text x="2127" y="1235" font-family="'Liberation Serif', 'Noto Serif CJK SC', serif" font-size="40px" fill="#000" fill-opacity="0.31" textLength="121" lengthAdjust="spacingAndGlyphs">汇外网</text>
</svg></body></html>
